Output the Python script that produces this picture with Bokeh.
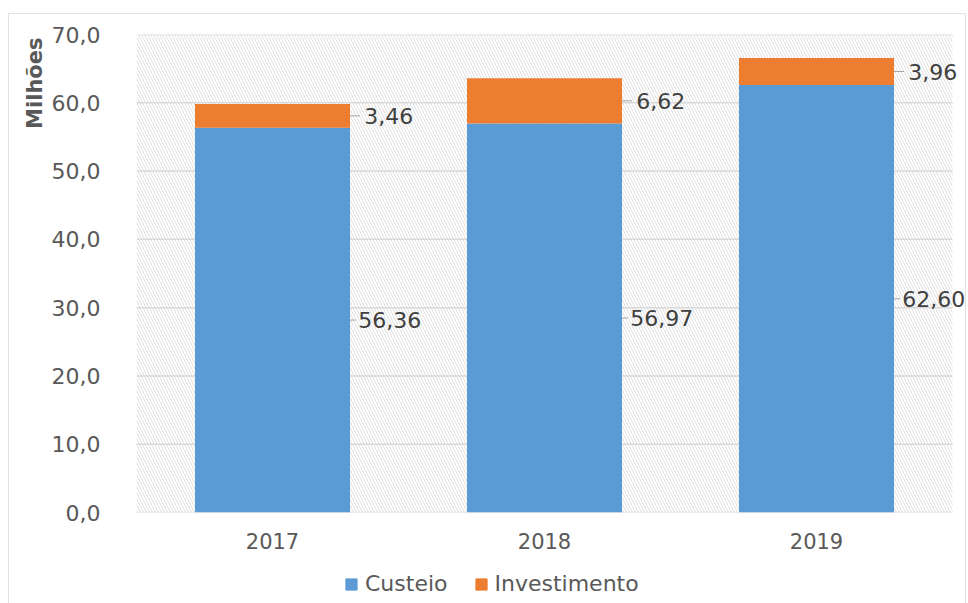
from bokeh.plotting import figure
from bokeh.layouts import column
from bokeh.models import (Range1d, BoxAnnotation, CustomJSTickFormatter, Legend,
                          LegendItem, ColumnDataSource, FixedTicker, Title)
from bokeh.core.properties import value
from bokeh.embed import file_html
from bokeh.resources import INLINE

years = ["2017", "2018", "2019"]
custeio = [56.36, 56.97, 62.60]
investimento = [3.46, 6.62, 3.96]
custeio_labels = ["56,36", "56,97", "62,60"]
invest_labels = ["3,46", "6,62", "3,96"]
y_ticks = [0, 10, 20, 30, 40, 50, 60, 70]
series_names = ["Custeio", "Investimento"]

BLUE = "#5B9BD5"
ORANGE = "#ED7D31"
FONT = "DejaVu Sans"
TXT = "#595959"
BAR_W = 0.57
HALF = BAR_W / 2

pos = list(range(len(years)))
src = ColumnDataSource(dict(
    x=pos,
    custeio=custeio,
    investimento=investimento,
    c_mid=[c / 2 for c in custeio],
    i_mid=[c + i / 2 for c, i in zip(custeio, investimento)],
    c_lab=custeio_labels,
    i_lab=invest_labels,
    edge=[x + HALF for x in pos],
    c_lead=[x + HALF + 0.022 for x in pos],
    i_lead=[x + HALF + 0.037 for x in pos],
    c_tx=[x + HALF + 0.03 for x in pos],
    i_tx=[x + HALF + 0.052 for x in pos],
))

X0, X1 = -0.5, len(years) - 0.5
p = figure(x_range=Range1d(X0, X1 + 0.0478), y_range=Range1d(0, 70),
           width=956, height=546, output_backend="svg", toolbar_location=None,
           min_border_left=127, min_border_right=0, min_border_top=20, min_border_bottom=48)
p.outline_line_color = None
p.background_fill_color = "white"
p.grid.visible = False

hatch = BoxAnnotation(left=X0, right=X1, bottom=0, top=70,
                      fill_color="white", fill_alpha=1.0, line_color=None,
                      hatch_pattern="\\", hatch_color="#e0e0e0", hatch_scale=6,
                      hatch_weight=1, level="image")
p.add_layout(hatch)

# horizontal gridlines, limited to the plot area
p.segment(x0=[X0] * len(y_ticks), x1=[X1] * len(y_ticks), y0=y_ticks, y1=y_ticks,
          line_color="#d9d9d9", line_width=1.5, level="underlay")

r = p.vbar_stack(["custeio", "investimento"], x="x", width=BAR_W, source=src,
                 color=[BLUE, ORANGE], line_width=0)

# leader lines and labels
p.segment(x0="edge", y0="c_mid", x1="c_lead", y1="c_mid",
          source=src, line_color="#a6a6a6", line_width=1)
p.segment(x0="edge", y0="i_mid", x1="i_lead", y1="i_mid",
          source=src, line_color="#a6a6a6", line_width=1)
p.text(x="c_tx", y="c_mid", text="c_lab", source=src,
       text_font=value(FONT), text_font_size="22px", text_color="#404040",
       text_baseline="middle", text_align="left")
p.text(x="i_tx", y="i_mid", text="i_lab", source=src,
       text_font=value(FONT), text_font_size="22px", text_color="#404040",
       text_baseline="middle", text_align="left")

p.yaxis.ticker = FixedTicker(ticks=y_ticks)
p.yaxis.formatter = CustomJSTickFormatter(code="return tick.toFixed(1).replace('.', ',');")
p.xaxis.ticker = FixedTicker(ticks=pos)
p.xaxis.major_label_overrides = {i: y for i, y in zip(pos, years)}

for ax in (p.xaxis, p.yaxis):
    ax.axis_line_color = None
    ax.major_tick_line_color = None
    ax.minor_tick_line_color = None
    ax.major_label_text_font = FONT
    ax.major_label_text_color = TXT
p.yaxis.major_label_text_font_size = "22px"
p.xaxis.major_label_text_font_size = "21px"
p.yaxis.major_label_standoff = 30
p.xaxis.major_label_standoff = 14

ytitle = Title(text="Milhões", align="right", text_font=FONT, text_font_style="bold",
               text_font_size="21px", text_color=TXT, offset=3, standoff=3)
p.add_layout(ytitle, "left")

# legend in a small companion figure
q = figure(width=956, height=43, x_range=(0, 1), y_range=(0, 1), output_backend="svg",
           toolbar_location=None, min_border=0)
q.axis.visible = False
q.grid.visible = False
q.outline_line_color = None
r1 = q.quad(left=[-5], right=[-4], bottom=[-5], top=[-4], color=BLUE)
r2 = q.quad(left=[-5], right=[-4], bottom=[-5], top=[-4], color=ORANGE)
legend = Legend(items=[LegendItem(label=series_names[0], renderers=[r1]),
                       LegendItem(label=series_names[1], renderers=[r2])],
                orientation="horizontal", location=(208, 7),
                label_text_font=FONT, label_text_font_size="22px", label_text_color=TXT,
                glyph_width=14, glyph_height=14, spacing=26, border_line_color=None,
                background_fill_alpha=0, padding=0, margin=0, label_standoff=7)
q.add_layout(legend, "center")

layout = column(p, q, spacing=0,
                styles={"border": "1px solid #e2e2e2", "margin-left": "8px",
                        "margin-top": "13px"})
open("out.html", "w").write(file_html(layout, INLINE))
